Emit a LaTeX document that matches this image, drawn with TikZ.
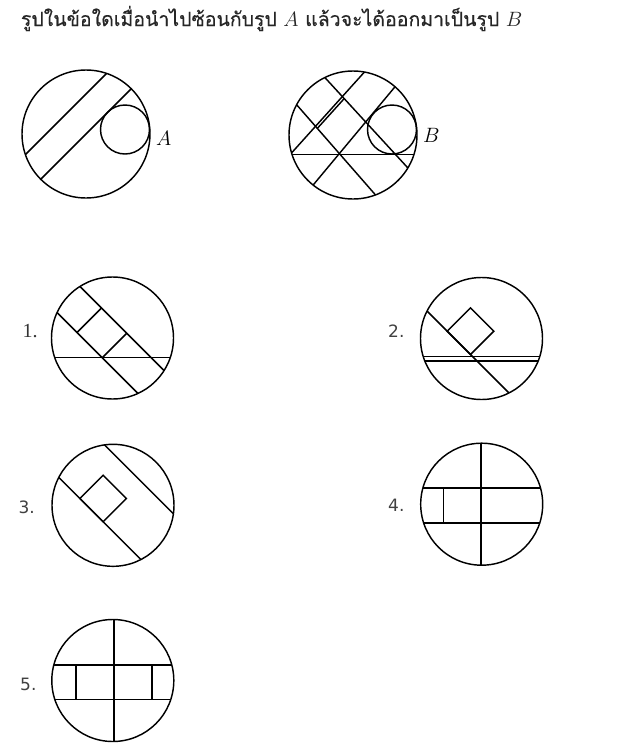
\documentclass[tikz,border=0pt]{standalone}
\usepackage{fontspec}
\newfontfamily\thaifont[Script=Thai,UprightFeatures={FakeBold=0.3}]{Loma}
\newfontfamily\numfont{DejaVu Sans}
\newfontfamily\onefont{Liberation Serif}
\usetikzlibrary{calc}
\begin{document}
\begin{tikzpicture}[x=1pt,y=-1pt,
  ln/.style={line width=1.45pt},
  lbl/.style={anchor=base west, inner sep=0pt},
  num/.style={lbl, text=black!75, font=\fontsize{17}{20}\selectfont\numfont},
  numone/.style={lbl, text=black!80, font=\fontsize{20}{22}\selectfont\onefont},
  figlbl/.style={lbl, font=\fontsize{22}{26}\selectfont},
  ttl/.style={lbl, text=black!85, font=\fontsize{19.5}{24}\selectfont\thaifont}]
\useasboundingbox (0,0) rectangle (644,753);
\fill[white] (0,0) rectangle (644,753);

% title
\node[ttl] (title) at (20.7,26)
  {รูปในข้อใดเมื่อนำไปซ้อนกับรูป {\fontsize{21}{24}\selectfont$A$} แล้วจะได้ออกมาเป็นรูป {\fontsize{21}{24}\selectfont$B$}};

% ---------- figure A ----------
\begin{scope}[shift={(86,134)}]
  \begin{scope}
    \clip (0,0) circle[radius=64];
    \draw[ln] (70,-110) -- (-110,70);
    \draw[ln] (90,-90) -- (-90,90);
  \end{scope}
  \draw[ln] (39,-4.5) circle[radius=24.5];
  \draw[ln] (0,0) circle[radius=64];
\end{scope}
\node[figlbl] (labA) at (156,145) {$A$};

% ---------- figure B ----------
\coordinate (bA1) at (364,72.5);   \coordinate (bA2) at (291.5,153);
\coordinate (bD1) at (394,88);     \coordinate (bD2) at (314,184);
\coordinate (bU1) at (325.3,78);   \coordinate (bU2) at (407,167);
\coordinate (bL1) at (296,104);    \coordinate (bL2) at (376,195.5);
\coordinate (bH1) at (280,154.3);  \coordinate (bH2) at (430,154.3);
\coordinate (bP) at (317.3,128.4);
\coordinate (bQ) at ($(bP)+(72.5,-80.5)$);
\begin{scope}
  \clip (353,135) circle[radius=64];
  \draw[ln] ($(bA1)!-0.5!(bA2)$) -- ($(bA2)!-0.5!(bA1)$);
  \draw[ln] ($(bD1)!-0.5!(bD2)$) -- ($(bD2)!-0.5!(bD1)$);
  \draw[ln] ($(bU1)!-0.5!(bU2)$) -- ($(bU2)!-0.5!(bU1)$);
  \draw[ln] ($(bL1)!-0.5!(bL2)$) -- ($(bL2)!-0.5!(bL1)$);
  \draw[ln] (bH1) -- (bH2);
\end{scope}
\draw[ln] (bP) -- (intersection of bP--bQ and bU1--bU2);
\draw[ln] (392,129.5) circle[radius=24.5];
\draw[ln] (353,135) circle[radius=64];
\node[figlbl] (labB) at (423,142.7) {$B$};

% ---------- option 1 ----------
\begin{scope}[shift={(112.5,338)}]
  \begin{scope}
    \clip (0,0) circle[radius=61];
    \draw[ln] (-70.5,-89.5) -- (89.5,70.5);
    \draw[ln] (-95,-65) -- (65,95);
    \draw[ln] (-70,19.5) -- (70,19.5);
  \end{scope}
  \draw[ln] (-11,-30) -- (-35.5,-5.5);
  \draw[ln] (14.25,-4.75) -- (-10.25,19.75);
  \draw[ln] (0,0) circle[radius=61];
\end{scope}
\node[numone] (n1) at (22.5,337.3) {1.};

% ---------- option 2 ----------
\begin{scope}[shift={(481.5,338.5)}]
  \begin{scope}
    \clip (0,0) circle[radius=61];
    \draw[ln] (-70,18) -- (70,18);
    \draw[ln] (-70,22.5) -- (70,22.5);
    \draw[ln] (-93.5,-66.5) -- (66.5,93.5);
  \end{scope}
  \draw[ln] (-11,16) -- (-34.3,-7.3) -- (-11,-30.6) -- (12.3,-7.3) -- cycle;
  \draw[ln] (0,0) circle[radius=61];
\end{scope}
\node[num] (n2) at (388,337.3) {2.};

% ---------- option 3 ----------
\begin{scope}[shift={(113,505.3)}]
  \begin{scope}
    \clip (0,0) circle[radius=61];
    \draw[ln] (-54,-106) -- (106,54);
    \draw[ln] (-93.2,-66.8) -- (66.8,93.2);
  \end{scope}
  \draw[ln] (-33.2,-6.8) -- (-9.9,-30.1) -- (13.4,-6.8) -- (-9.9,16.5) -- cycle;
  \draw[ln] (0,0) circle[radius=61];
\end{scope}
\node[num] (n3) at (18.3,513.3) {3.};

% ---------- option 4 ----------
\begin{scope}[shift={(481.7,504.2)}]
  \begin{scope}
    \clip (0,0) circle[radius=61];
    \draw[ln] (-0.5,-70) -- (-0.5,70);
    \draw[ln] (-70,-16) -- (70,-16);
    \draw[ln] (-70,19) -- (70,19);
  \end{scope}
  \draw[ln] (-38.4,-16) -- (-38.4,19);
  \draw[ln] (0,0) circle[radius=61];
\end{scope}
\node[num] (n4) at (388,511.7) {4.};

% ---------- option 5 ----------
\begin{scope}[shift={(112.8,680.5)}]
  \begin{scope}
    \clip (0,0) circle[radius=61];
    \draw[ln] (1,-70) -- (1,70);
    \draw[ln] (-70,-15.5) -- (70,-15.5);
    \draw[ln] (-70,18.8) -- (70,18.8);
  \end{scope}
  \draw[ln] (-37,-15.5) -- (-37,18.8);
  \draw[ln] (39,-15.5) -- (39,18.8);
  \draw[ln] (0,0) circle[radius=61];
\end{scope}
\node[num] (n5) at (20,690) {5.};
\end{tikzpicture}
\end{document}
